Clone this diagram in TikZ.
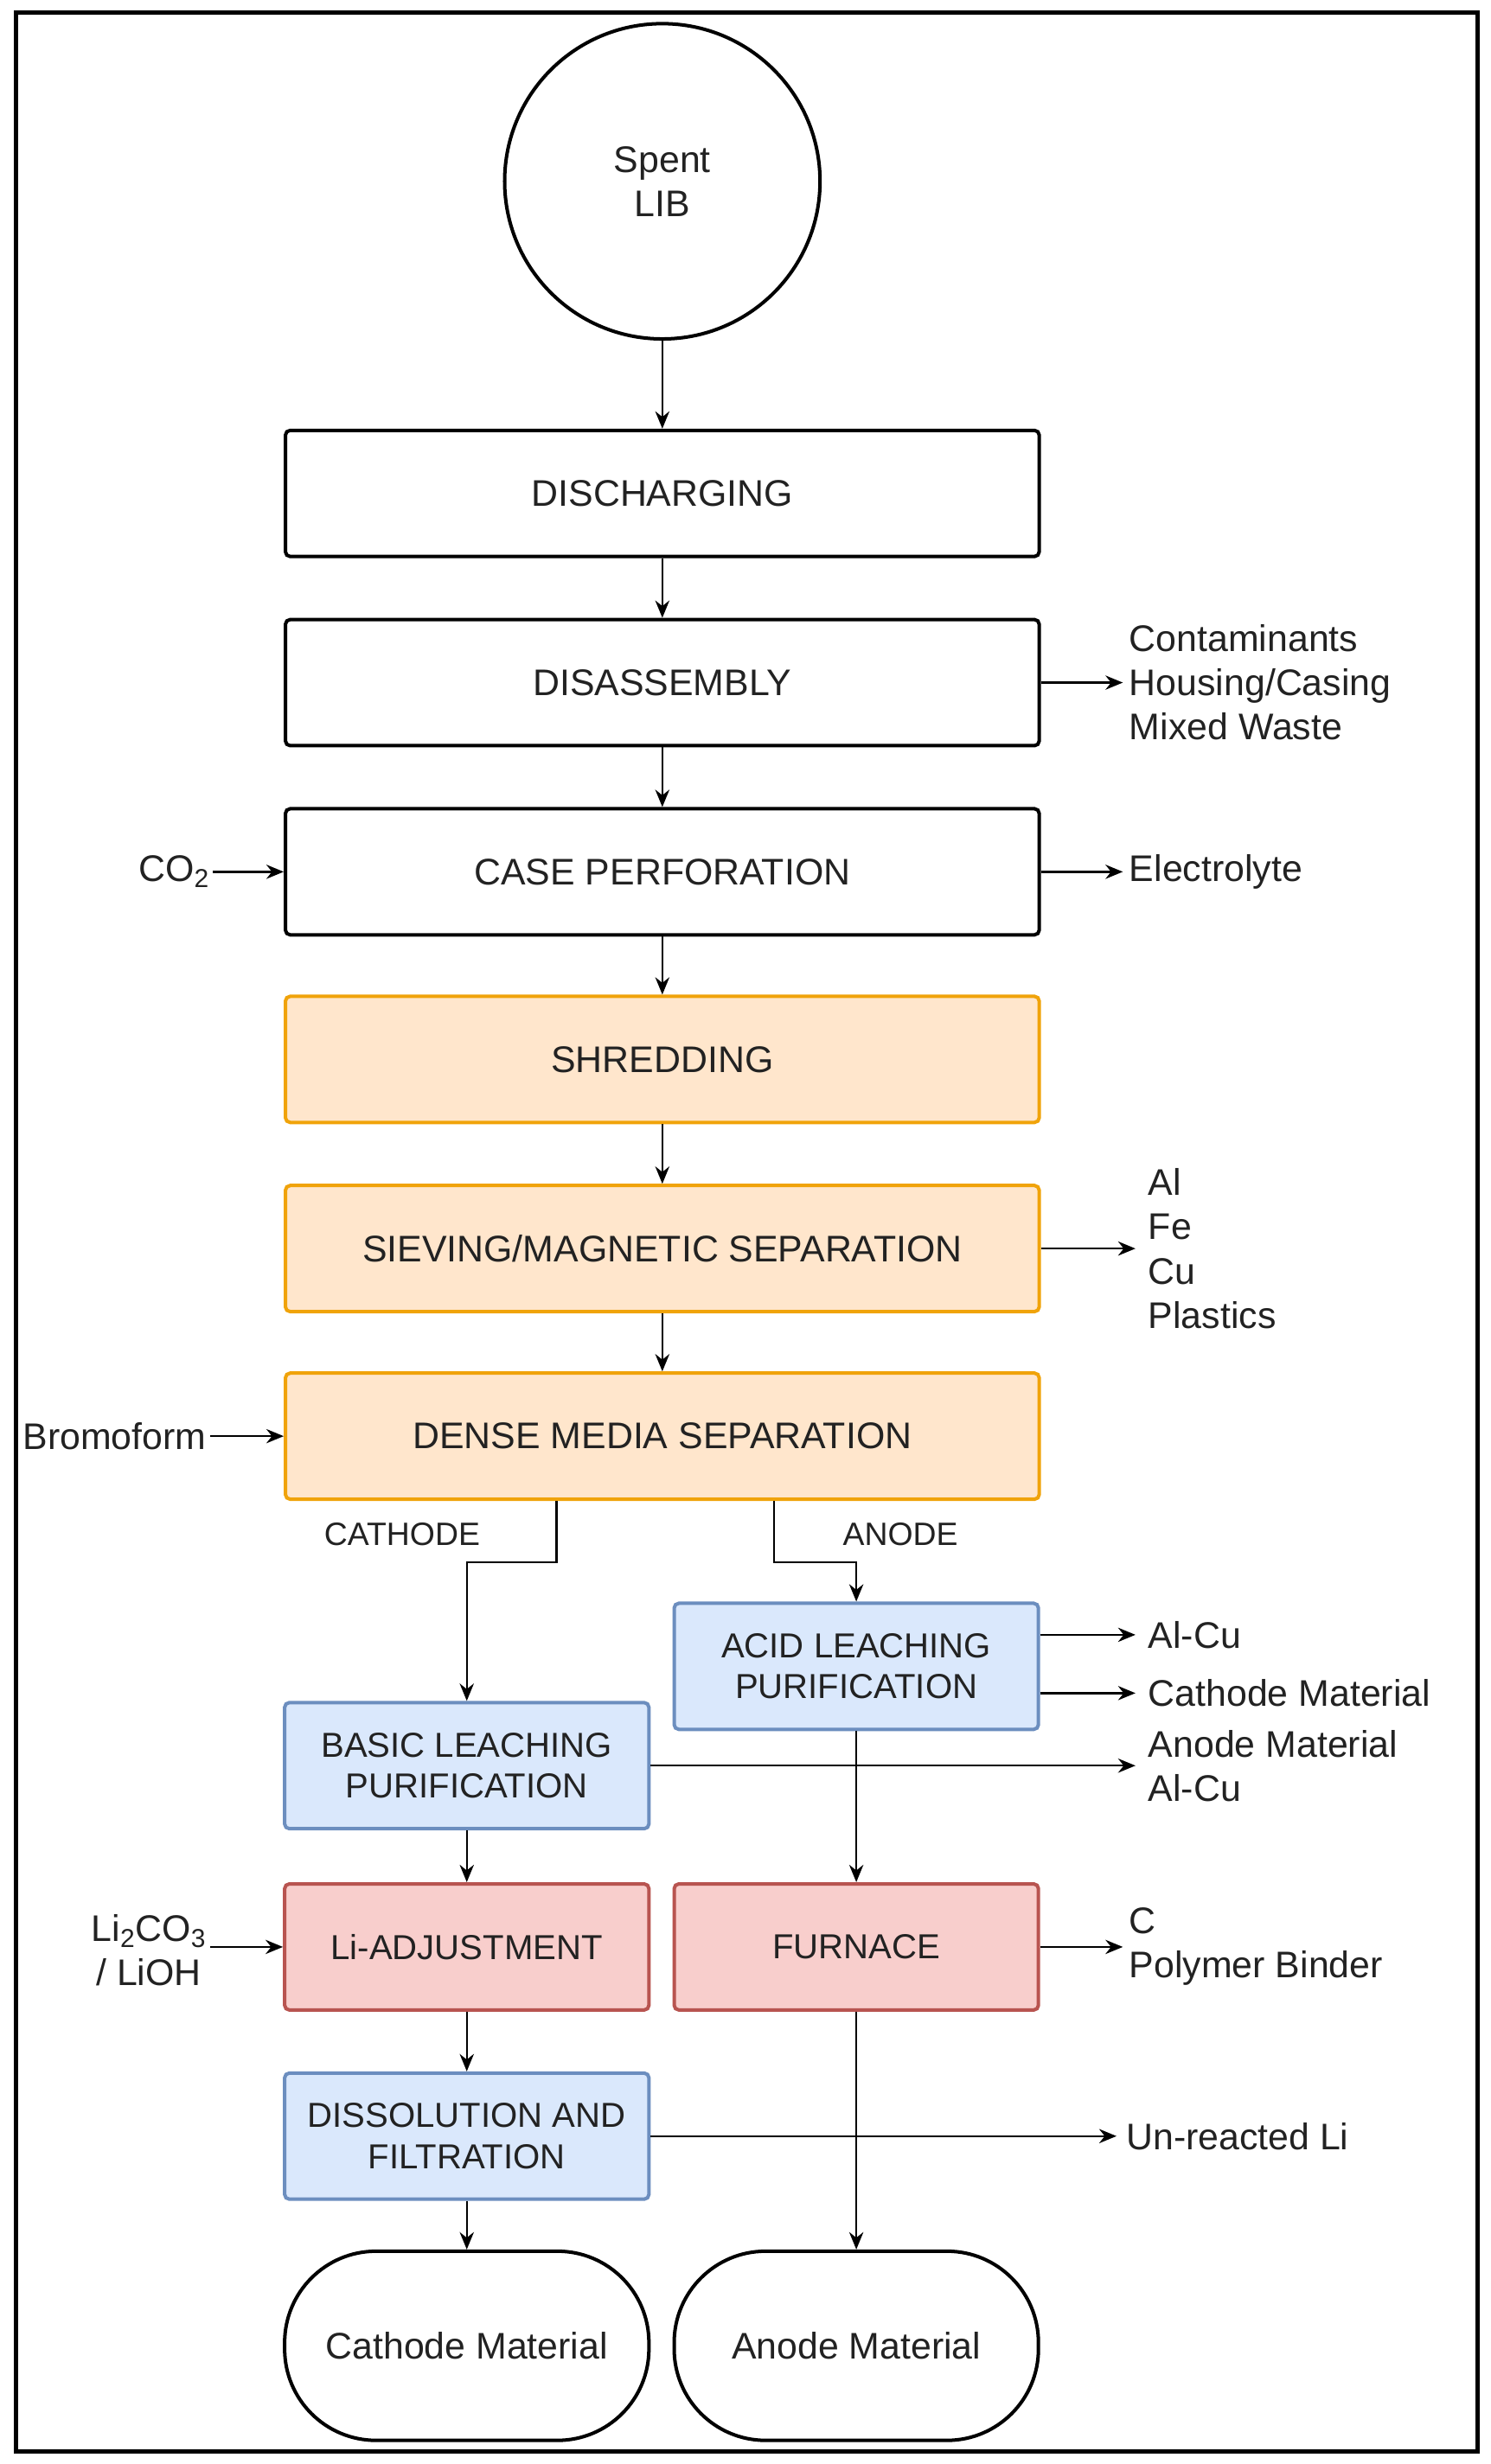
\documentclass[tikz,border=0pt]{standalone}
\usepackage{fontspec}
\setmainfont{Liberation Sans}
\usetikzlibrary{arrows.meta}
\definecolor{ofill}{HTML}{FFE6CC}\definecolor{ostroke}{HTML}{F0A30A}
\definecolor{bfill}{HTML}{DAE8FC}\definecolor{bstroke}{HTML}{6C8EBF}
\definecolor{rfill}{HTML}{F8CECC}\definecolor{rstroke}{HTML}{B85450}
\definecolor{txt}{HTML}{222222}
\begin{document}
\begin{tikzpicture}[x=1pt,y=-1pt,
 every node/.style={font=\fontsize{23.5}{28}\selectfont,text=txt},
 box/.style={draw,line width=2.2pt,rounded corners=3pt,minimum width=478pt,minimum height=80pt,align=center},
 sbox/.style={draw,line width=2.2pt,rounded corners=3pt,minimum width=231pt,minimum height=80pt,align=center,font=\fontsize{22}{26}\selectfont},
 org/.style={fill=ofill,draw=ostroke},
 blu/.style={fill=bfill,draw=bstroke},
 red/.style={fill=rfill,draw=rstroke},
 term/.style={draw,line width=2.2pt,rounded corners=58pt,minimum width=231pt,minimum height=120pt},
 lbl/.style={align=left,anchor=west,inner sep=0pt},
 ar/.style={-{Stealth[length=11pt,width=9pt]},line width=1.3pt}]
\useasboundingbox (0,0) rectangle (945,1563);
\draw[line width=2.5pt] (10,8) rectangle (937,1555);
\node[draw,circle,line width=2.2pt,minimum size=200pt,align=center] (spent) at (420,115) {Spent\\LIB};
\node[box] (dis) at (420,313) {DISCHARGING};
\node[box] (dasm) at (420,433) {DISASSEMBLY};
\node[box] (case) at (420,553) {CASE PERFORATION};
\node[box,org] (shr) at (420,672) {SHREDDING};
\node[box,org] (sie) at (420,792) {SIEVING/MAGNETIC SEPARATION};
\node[box,org] (den) at (420,911) {DENSE MEDIA SEPARATION};
\node[sbox,blu] (acid) at (543,1057) {ACID LEACHING\\PURIFICATION};
\node[sbox,blu] (basic) at (296,1120) {BASIC LEACHING\\PURIFICATION};
\node[sbox,red] (li) at (296,1235) {Li-ADJUSTMENT};
\node[sbox,red] (fur) at (543,1235) {FURNACE};
\node[sbox,blu] (diss) at (296,1355) {DISSOLUTION AND\\FILTRATION};
\node[term] (cm) at (296,1488) {Cathode Material};
\node[term] (am) at (543,1488) {Anode Material};
\draw[ar] (spent) -- (dis);
\draw[ar] (dis) -- (dasm);
\draw[ar] (dasm) -- (case);
\draw[ar] (case) -- (shr);
\draw[ar] (shr) -- (sie);
\draw[ar] (sie) -- (den);
\draw[ar] (den.south -| 353,0) |- (296,991) -- (basic.north);
\draw[ar] (den.south -| 491,0) |- (543,991) -- (acid.north);
\node[font=\fontsize{20.5}{24}\selectfont] at (255,973) {CATHODE};
\node[font=\fontsize{20.5}{24}\selectfont] at (571,973) {ANODE};
\draw[ar] (basic) -- (li);
\draw[ar] (li) -- (diss);
\draw[ar] (diss) -- (cm);
\draw[ar] (acid) -- (fur);
\draw[ar] (fur) -- (am);
% side outputs
\coordinate (o1) at (712,433);
\draw[ar] (dasm.east) -- (o1);
\node[lbl] at (716,433) {Contaminants\\Housing/Casing\\Mixed Waste};
\coordinate (o2) at (712,553);
\draw[ar] (case.east) -- (o2);
\node[lbl] at (716,553) {Electrolyte};
\coordinate (o3) at (720,792);
\draw[ar] (sie.east) -- (o3);
\node[lbl] at (728,792) {Al\\Fe\\Cu\\Plastics};
\coordinate (o4) at (720,1037);
\draw[ar] (acid.east |- o4) -- (o4);
\node[lbl] at (728,1037) {Al-Cu};
\coordinate (o5) at (720,1074);
\draw[ar] (acid.east |- o5) -- (o5);
\node[lbl] at (728,1074) {Cathode Material};
\coordinate (o6) at (720,1120);
\draw[ar] (basic.east) -- (o6);
\node[lbl] at (728,1120) {Anode Material\\Al-Cu};
\coordinate (o7) at (712,1235);
\draw[ar] (fur.east) -- (o7);
\node[lbl] at (716,1235) {C\\Polymer Binder};
\coordinate (o8) at (708,1355);
\draw[ar] (diss.east) -- (o8);
\node[lbl] at (714,1355) {Un-reacted Li};
% inputs
\node[anchor=east,inner sep=2pt] (co2) at (135,553) {CO\textsubscript{2}};
\draw[ar] (co2) -- (case.west);
\node[anchor=east,inner sep=2pt] (bro) at (133,911) {Bromoform};
\draw[ar] (bro) -- (den.west);
\node[anchor=east,inner sep=2pt,align=center] (lic) at (133,1237) {Li\textsubscript{2}CO\textsubscript{3}\\/ LiOH};
\draw[ar] (lic.east |- li.west) -- (li.west);
\end{tikzpicture}
\end{document}
